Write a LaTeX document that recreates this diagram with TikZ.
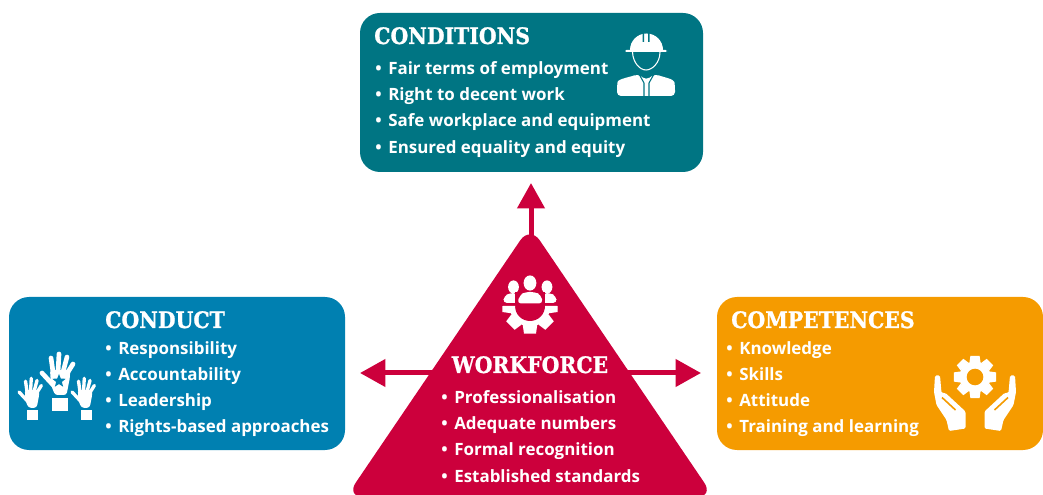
\documentclass[tikz,border=0pt]{standalone}
\usepackage{fontspec}
\usepackage{xcolor}
\setmainfont{Open Sans}
\newfontfamily\headfont[FakeStretch=.9,FakeBold=1]{DejaVu Serif}
\usetikzlibrary{arrows.meta,shapes.geometric}
\definecolor{condcol}{RGB}{0,117,131}
\definecolor{conductcol}{RGB}{0,128,177}
\definecolor{compcol}{RGB}{245,155,0}
\definecolor{workcol}{RGB}{204,0,60}
\newcommand{\itm}{•\hspace{5pt}}

\tikzset{
  panel/.style={rectangle, rounded corners=15pt, minimum height=114.75pt, inner sep=0pt},
  heading/.style={anchor=base west, text=white, inner sep=0pt, font=\headfont\bfseries\fontsize{17}{20}\selectfont},
  items/.style={anchor=north west, align=left, text=white, inner sep=0pt, font=\bfseries\fontsize{12.7}{19.6}\selectfont},
  link/.style={draw=workcol, line width=3.75pt, -{Triangle[length=19pt,width=20pt]}},
  fingerw/.style={line width=3.5pt},
  wheel/.pic={
    \foreach \a in {0,45,...,315}
      \fill[white, rotate=\a] (-6,-16) -- (-5,-23) -- (5,-23) -- (6,-16) -- cycle;
    \fill[white] (0,0) circle (17);
  },
  liftedhand/.pic={
    \fill[white, rounded corners=2pt] (-10,-10) -- (10,-10) -- (10,-3) -- (6.5,15) -- (-5,15) -- (-9,5) -- cycle;
    \foreach \xa/\xb/\y in {-7/-9/-22, -2/-1/-26, 3/7/-23, 8/13/-16}
      \draw[white, fingerw, line cap=round] (\xa,-8) -- (\xb,\y);
    \draw[white, fingerw, line cap=round] (-5,7) -- (-18,-7);
  },
  carehand/.pic={
    \fill[white, rounded corners=1pt] (-40,-1.5) -- (-35,-1.5) -- (-33.5,16) -- (-29.5,16) -- (-9.5,34.5) -- (-9.5,51.5) -- (-26,54) -- (-28.5,43) -- (-38.5,28) -- (-41,15) -- cycle;
    \draw[compcol, line width=1.2pt] (-33,20.5) -- (-19.5,33);
  }
}

\begin{document}
\begin{tikzpicture}[x=.75pt, y=-.75pt]
\useasboundingbox (0,0) rectangle (1043,495);
\node (conditions) [panel, fill=condcol, minimum width=257.25pt, minimum height=119.25pt] at (531.5,92.5) {};
\node (conduct) [panel, fill=conductcol, minimum width=252pt] at (177,373.5) {};
\node (competences) [panel, fill=compcol, minimum width=244.5pt] at (880,373.5) {};

% arrows leave from behind the triangle
\coordinate (apex) at (531,260);
\coordinate (hub) at (530,373);
\coordinate (upTip) at (531,183);
\coordinate (leftTip) at (360,373);
\coordinate (rightTip) at (701,373);
\draw[link] (apex) -- (upTip);
\draw[link] (hub) -- (leftTip);
\draw[link] (hub) -- (rightTip);
\fill[workcol, rounded corners=13pt] (530,226) -- (714,497) -- (346,497) -- cycle;

\node (conditionsHead) [heading] at (374,44) {CONDITIONS};
\node (conditionsList) [items] at (375,61.5) {\itm Fair terms of employment\\\itm Right to decent work\\\itm Safe workplace and equipment\\\itm Ensured equality and equity};
\node (conductHead) [heading] at (105,328) {CONDUCT};
\node (conductList) [items] at (105,341) {\itm Responsibility\\\itm Accountability\\\itm Leadership\\\itm Rights-based approaches};
\node (competencesHead) [heading] at (731,328) {COMPETENCES};
\node (competencesList) [items] at (726,341) {\itm Knowledge\\\itm Skills\\\itm Attitude\\\itm Training and learning};
\node (workforceHead) [heading, anchor=base] at (530,373) {WORKFORCE};
\node (workforceList) [items] at (441,390.5) {\itm Professionalisation\\\itm Adequate numbers\\\itm Formal recognition\\\itm Established standards};

% worker
\fill[white] (630,50) arc (180:360:16.5) -- cycle;
\fill[white, rounded corners=1pt] (625,50) rectangle (667,52);
\fill[condcol] (642.5,31) rectangle (644,42) (648,31) rectangle (649.5,42);
\draw[white, line width=.8pt] (632.5,52) .. controls (633,63) and (640,70) .. (646,70) .. controls (652,70) and (660,63) .. (660,52);
\fill[white, rounded corners=3pt] (617,96) -- (617,86) .. controls (618,79) and (630,77) .. (638,74) -- (646,80) -- (655,74) .. controls (663,77) and (674,79) .. (675,86) -- (675,96) -- cycle;
\draw[condcol, line width=.8pt] (639,74) -- (644,83) -- (644,96) (654,74) -- (649,83) -- (649,96);

% people on a wheel
\pic[scale=1.2] at (530,306) {wheel};
\fill[workcol] (530,306) circle (15);
\fill[workcol] (500,275) rectangle (560,306);
\foreach \x/\r in {513.5/5.4, 547/5.4, 530/6.4}
  \fill[white] (\x,{287-(\r-5.4)*4}) ellipse ({\r} and {\r+1.2});
\fill[white, rounded corners=3pt] (503,303) -- (504,296) -- (510,293) -- (516,293) -- (520,303) -- cycle;
\fill[white, rounded corners=3pt] (557,303) -- (556,296) -- (550,293) -- (544,293) -- (540,303) -- cycle;
\fill[workcol] (515,292) -- (545,292) -- (545,304) -- (515,304) -- cycle;
\fill[white, rounded corners=3pt] (517,303.5) -- (520,295) -- (525,292) -- (535,292) -- (541,295) -- (543,303.5) -- cycle;
\fill[white] (503,306) rectangle (515,310) (545,306) rectangle (557,310);

% raised hands
\pic at (60,380) {liftedhand};
\fill[white] (52,398) rectangle (68,411);
\node (star) [star, star points=5, star point ratio=2.3, fill=conductcol, minimum size=10.5pt, inner sep=0pt] at (59,381) {};
\pic[scale=.72, fingerw/.style={line width=2.5pt}] at (32,397) {liftedhand};
\fill[white] (27,410) rectangle (38,420);
\pic[scale=.72, fingerw/.style={line width=2.5pt}] at (85,397) {liftedhand};
\fill[white] (81,410) rectangle (92,420);

% gear in hands
\pic[scale=.92] at (975,377) {wheel};
\fill[compcol] (975,377) circle (8.3);
\pic at (975,377) {carehand};
\pic[xscale=-1] at (975,377) {carehand};
\end{tikzpicture}
\end{document}
